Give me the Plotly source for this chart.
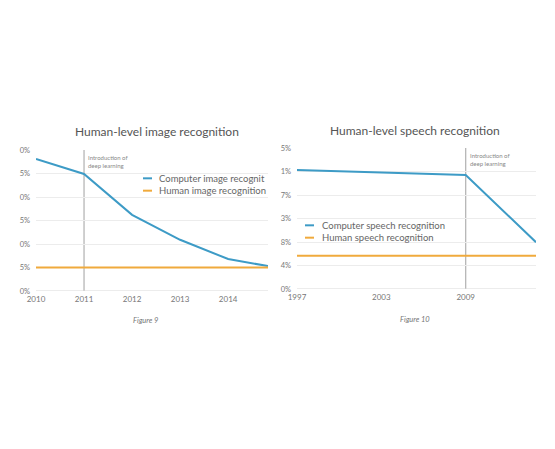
import plotly.graph_objects as go

W, H = 555, 449
OFF = 8  # page body margin of the browser

# ---- Figure 9 data ----
img_years = [2010, 2011, 2012, 2013, 2014, 2014.83]
img_computer = [28.1, 24.9, 16.2, 10.9, 6.8, 5.3]
img_human_years = [2010, 2014.83]
img_human = [5.0, 5.0]
img_ytickvals = [0, 5, 10, 15, 20, 25, 30]
img_yticktext = ["0%", "5%", "0%", "5%", "0%", "5%", "0%"]
img_xticks = [2010, 2011, 2012, 2013, 2014]
img_names = ["Computer image recognit", "Human image recognition"]

# ---- Figure 10 data ----
sp_years = [1997, 2009, 2014]
sp_computer = [21.1, 20.2, 8.3]
sp_human_years = [1997, 2014]
sp_human = [5.9, 5.9]
sp_ytickvals = [0, 25/6, 50/6, 12.5, 100/6, 125/6, 25]
sp_yticktext = ["0%", "4%", "8%", "3%", "7%", "1%", "5%"]
sp_xticks = [1997, 2003, 2009]
sp_names = ["Computer speech recognition", "Human speech recognition"]

BLUE = "#3d9bc6"
ORANGE = "#f0aa3c"
GRID = "#ececec"
TXT = "#777777"
FONT = "Lato"

def fx(px):
    return (px - OFF) / W

def fy(py):
    return 1 - (py - OFF) / H

fig = go.Figure()
fig.add_trace(go.Scatter(x=img_years, y=img_computer, mode="lines", name=img_names[0],
                         line=dict(color=BLUE, width=2), xaxis="x", yaxis="y"))
fig.add_trace(go.Scatter(x=img_human_years, y=img_human, mode="lines", name=img_names[1],
                         line=dict(color=ORANGE, width=2), xaxis="x", yaxis="y"))
fig.add_trace(go.Scatter(x=sp_years, y=sp_computer, mode="lines", name=sp_names[0],
                         line=dict(color=BLUE, width=2), xaxis="x2", yaxis="y2"))
fig.add_trace(go.Scatter(x=sp_human_years, y=sp_human, mode="lines", name=sp_names[1],
                         line=dict(color=ORANGE, width=2), xaxis="x2", yaxis="y2"))

axis_common = dict(showgrid=False, zeroline=False, ticks="", tickfont=dict(size=8, color=TXT, family=FONT),
                   showline=False, automargin=False)
yaxis_common = dict(showgrid=True, gridcolor=GRID, gridwidth=1, zeroline=False, ticks="",
                    tickfont=dict(size=7.5, color=TXT, family=FONT), showline=False, automargin=False)

fig.update_layout(
    width=W, height=H,
    margin=dict(l=0, r=0, t=0, b=0, autoexpand=False),
    paper_bgcolor="white", plot_bgcolor="white",
    showlegend=False,
    xaxis=dict(domain=[fx(36), fx(268)], range=[2010, 2014.83], tickvals=img_xticks,
               ticktext=[str(v) for v in img_xticks], anchor="y", ticklabelstandoff=2, **axis_common),
    yaxis=dict(domain=[fy(291), fy(150)], range=[0, 30], tickvals=img_ytickvals,
               ticktext=img_yticktext, anchor="x", ticklabelstandoff=5, **yaxis_common),
    xaxis2=dict(domain=[fx(297), fx(536)], range=[1997, 2014], tickvals=sp_xticks,
                ticktext=[str(v) for v in sp_xticks], anchor="y2", ticklabelstandoff=2, **axis_common),
    yaxis2=dict(domain=[fy(289), fy(148)], range=[0, 25], tickvals=sp_ytickvals,
                ticktext=sp_yticktext, anchor="x2", ticklabelstandoff=5, **yaxis_common),
)

# baseline and deep-learning markers
fig.add_shape(type="line", xref="x", yref="y", x0=2010, x1=2014.83, y0=0, y1=0,
              line=dict(color="#d8d8d8", width=1))
fig.add_shape(type="line", xref="x2", yref="y2", x0=1997, x1=2014, y0=0, y1=0,
              line=dict(color="#d8d8d8", width=1))
fig.add_shape(type="line", xref="x", yref="y", x0=2011, x1=2011, y0=0, y1=30.3,
              line=dict(color="#b0b0b0", width=1.2), layer="below")
fig.add_shape(type="line", xref="x2", yref="y2", x0=2009, x1=2009, y0=0, y1=25.2,
              line=dict(color="#b0b0b0", width=1.2), layer="below")

fig.add_annotation(x=2011, y=29.6, xref="x", yref="y", xanchor="left", yanchor="top", xshift=2,
                   text="Introduction of<br>deep learning", showarrow=False, align="left",
                   font=dict(size=6, color="#888", family=FONT))
fig.add_annotation(x=2009, y=24.6, xref="x2", yref="y2", xanchor="left", yanchor="top", xshift=2,
                   text="Introduction of<br>deep learning", showarrow=False, align="left",
                   font=dict(size=6, color="#888", family=FONT))

# compact legends (short line samples, tight rows as in the reference)
LEG_SIZE = 9.5
ROW = LEG_SIZE * 1.3

def add_legend(names, colors, x_line, x_text, y_center):
    n = len(names)
    for i, col in enumerate(colors):
        yy = y_center + (i - (n - 1) / 2) * ROW
        fig.add_shape(type="line", xref="paper", yref="paper", x0=fx(x_line), x1=fx(x_line + 9),
                      y0=fy(yy), y1=fy(yy), line=dict(color=col, width=2))
    fig.add_annotation(x=fx(x_text), y=fy(y_center), xref="paper", yref="paper", xanchor="left",
                       yanchor="middle", text="<br>".join(names), showarrow=False, align="left",
                       font=dict(size=LEG_SIZE, color="#666", family=FONT))

add_legend(img_names, [BLUE, ORANGE], 143, 157, 184.5)
add_legend(sp_names, [BLUE, ORANGE], 305, 320, 231.5)

# titles
fig.add_annotation(x=fx(157), y=fy(132), xref="paper", yref="paper", xanchor="center", yanchor="middle",
                   text="Human-level image recognition",
                   showarrow=False, font=dict(size=12, color="#555", family=FONT))
fig.add_annotation(x=fx(415), y=fy(130), xref="paper", yref="paper", xanchor="center", yanchor="middle",
                   text="Human-level speech recognition",
                   showarrow=False, font=dict(size=12, color="#555", family=FONT))
# captions
fig.add_annotation(x=fx(145), y=fy(320), xref="paper", yref="paper", xanchor="center", yanchor="middle",
                   text="<i>Figure 9</i>",
                   showarrow=False, font=dict(size=7.5, color="#777", family=FONT))
fig.add_annotation(x=fx(415), y=fy(319), xref="paper", yref="paper", xanchor="center", yanchor="middle",
                   text="<i>Figure 10</i>",
                   showarrow=False, font=dict(size=7.5, color="#777", family=FONT))

fig.write_html("out.html")
